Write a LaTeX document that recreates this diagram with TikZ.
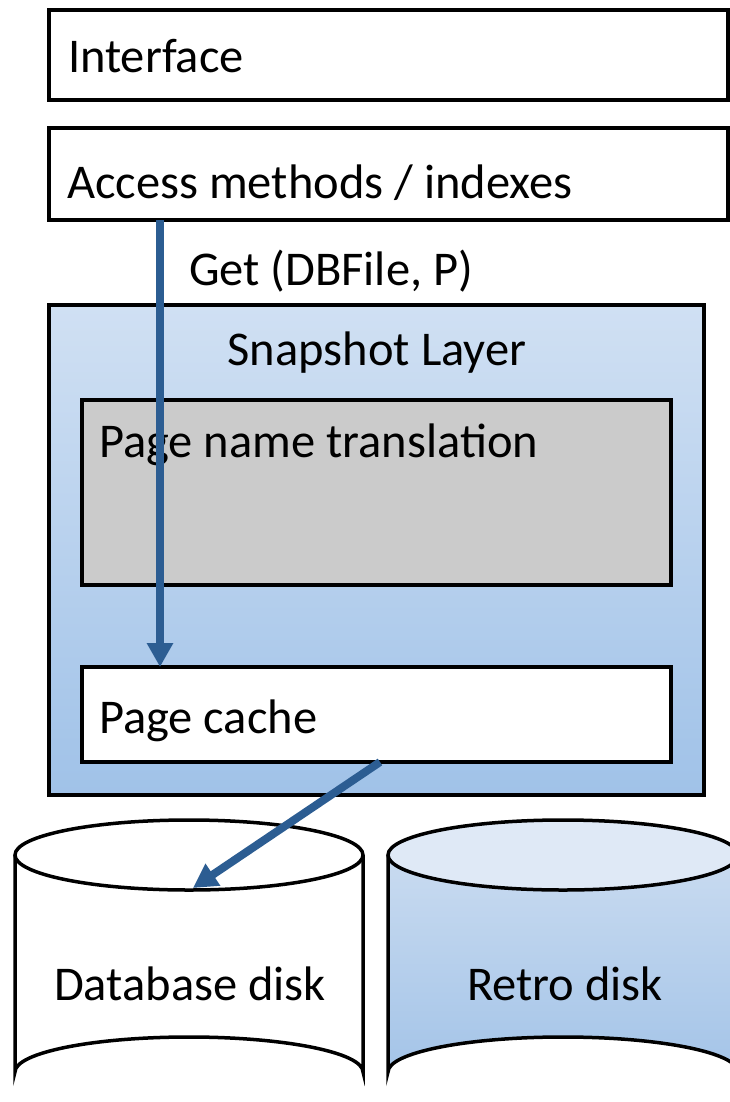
\documentclass[tikz,border=0pt]{standalone}
\usepackage{fontspec}
\setmainfont{Carlito}
\usetikzlibrary{arrows.meta,calc}

\definecolor{arrowblue}{HTML}{2C5D92}
\definecolor{layertop}{HTML}{D0E0F3}
\definecolor{layerbot}{HTML}{A0C2E8}
\definecolor{transgray}{HTML}{CBCBCB}
\definecolor{disktop}{HTML}{DFE9F6}
\definecolor{diskbodytop}{HTML}{C9DBF0}
\definecolor{diskbodybot}{HTML}{A4C4E8}

\tikzset{
  box/.style={draw=black, line width=3.5pt, inner sep=0pt, outer sep=0pt,
              anchor=north west},
  lbl/.style={inner sep=0pt, outer sep=0pt, anchor=base west,
              font=\fontsize{48.5}{58}\selectfont},
  clbl/.style={lbl, anchor=base},
  flow/.style={draw=arrowblue, line width=8pt,
               -{Triangle[width=25pt,length=24pt]}},
  diskline/.style={draw=black, line width=3.5pt},
}

\begin{document}
\begin{tikzpicture}[x=1pt,y=-1pt]
\useasboundingbox (0,0) rectangle (730,1102);
\fill[white] (0,0) rectangle (730,1102);

% upper layers
\node[box, fill=white, minimum width=679pt, minimum height=90pt] (intf) at (49,10) {};
\node[lbl] (intflbl) at (68,73) {Interface};
\node[box, fill=white, minimum width=679pt, minimum height=92pt] (acc) at (49,128) {};
\node[lbl] (acclbl) at (67,198) {Access methods / indexes};
\node[lbl] (getlbl) at (189,285) {Get (DBFile, P)};

% snapshot layer with its inner boxes
\node[box, top color=layertop, bottom color=layerbot,
      minimum width=655pt, minimum height=490pt] (snap) at (49,305) {};
\node[clbl] (snaplbl) at (377,365) {Snapshot Layer};
\node[box, fill=transgray, minimum width=589pt, minimum height=185pt] (trans) at (82,400) {};
\node[lbl] (translbl) at (99,457) {Page name translation};
\node[box, fill=white, minimum width=589pt, minimum height=95pt] (cache) at (82,667) {};
\node[lbl] (cachelbl) at (99,733) {Page cache};

% database disk
\shade[top color=white, bottom color=white]
  (15,855) -- (15,1072) arc[start angle=180, end angle=360, x radius=174, y radius=35]
  -- (363,855) arc[start angle=0, end angle=180, x radius=174, y radius=35] -- cycle;
\draw[diskline] (15,855) -- (15,1072)
  arc[start angle=180, end angle=360, x radius=174, y radius=35] -- (363,855);
\draw[diskline, fill=white] (189,855) ellipse[x radius=174, y radius=35];
\node[clbl] (dblbl) at (190,1000) {Database disk};
\coordinate (dbtop) at (193,888);

% retro disk
\shade[top color=diskbodytop, bottom color=diskbodybot]
  (388,855) -- (388,1072) arc[start angle=180, end angle=360, x radius=175, y radius=35]
  -- (738,855) arc[start angle=0, end angle=180, x radius=175, y radius=35] -- cycle;
\draw[diskline] (388,855) -- (388,1072)
  arc[start angle=180, end angle=360, x radius=175, y radius=35] -- (738,855);
\draw[diskline, fill=disktop] (563,855) ellipse[x radius=175, y radius=35];
\node[clbl] (retrolbl) at (565,1000) {Retro disk};

% data flow
\coordinate (getx) at (160,0);
\draw[flow] (acc.south -| getx) -- (cache.north -| getx);
\coordinate (cachex) at (380,0);
\draw[flow] (cache.south -| cachex) -- (dbtop);
\end{tikzpicture}
\end{document}
